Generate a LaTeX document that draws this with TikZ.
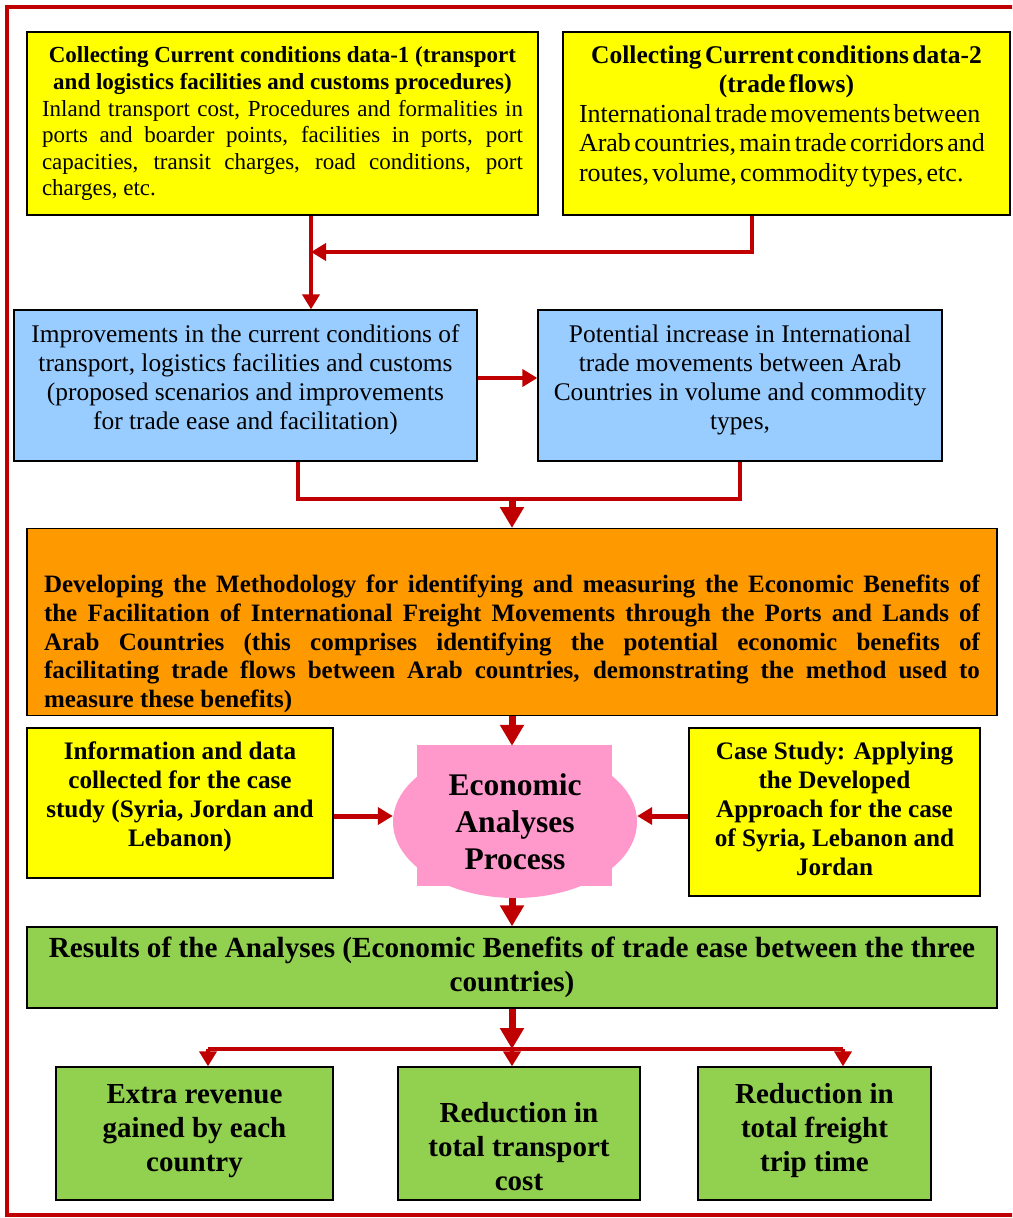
\documentclass[tikz,border=0pt]{standalone}
\usepackage{fontspec}
\setmainfont{Liberation Serif}
\usepackage{tikz}
\usetikzlibrary{shapes.geometric}
\usetikzlibrary{arrows.meta,calc}

\definecolor{flowred}{HTML}{C00000}
\definecolor{yellowbox}{HTML}{FFFF00}
\definecolor{bluebox}{HTML}{99CCFF}
\definecolor{orangebox}{HTML}{FF9900}
\definecolor{pinkbox}{HTML}{FF99CC}
\definecolor{greenbox}{HTML}{92D050}

\setlength{\parindent}{0pt}
\newcommand{\lowfill}[1]{\rule[-#1]{0pt}{0pt}}
\newcommand{\topfill}[1]{\rule{0pt}{#1}}

\begin{document}
\begin{tikzpicture}[x=1pt,y=-1pt,
      box/.style={draw=black,line width=1.3pt,inner sep=0pt},
      line/.style={draw=flowred,line width=4pt},
      flow/.style={line,-{Triangle[length=15pt,width=17pt]}},
      bigflow/.style={draw=flowred,line width=7pt,-{Triangle[length=21pt,width=23pt]}}]
      
      \useasboundingbox (0,0) rectangle (1012,1218);
      \clip (0,0) rectangle (1012,1218);
      
      %外框
      \draw[flowred,line width=3.5pt] (7,7) rectangle (1040,1215);
      
      %数据收集
      \node[box,fill=yellowbox,minimum width=511pt,minimum height=183pt,text width=481pt,align=justify] (data1) at (282.5,123.5)
      {{\centering\bfseries\fontsize{23}{27.5}\selectfont Collecting Current conditions data-1 (transport\\
      and logistics facilities and customs procedures)\par}
      {\fontsize{23}{26.5}\selectfont Inland transport cost, Procedures and formalities in\linebreak
      ports and boarder points, facilities in ports, port\linebreak
      capacities, transit charges, road conditions, port\linebreak
      charges, etc.\par}};
      
      \node[box,fill=yellowbox,minimum width=447pt,minimum height=183pt,text width=415pt] (data2) at (786.5,123.5)
      {{\centering\bfseries\fontsize{25.5}{29}\selectfont Collecting Current conditions data-2\\
      (trade flows)\par}
      {\raggedright\fontsize{26}{29.5}\selectfont International trade movements between\\
      Arab countries, main trade corridors and\\
      routes, volume, commodity types, etc.\lowfill{20pt}\par}};
      
      %改进
      \node[box,fill=bluebox,minimum width=463pt,minimum height=151pt,align=center,
      font=\fontsize{25.4}{29}\selectfont] (improve) at (245.5,385.5)
      {Improvements in the current conditions of\\
      transport, logistics facilities and customs\\
      (proposed scenarios and improvements\\
      for trade ease and facilitation)\lowfill{16pt}};
      
      \node[box,fill=bluebox,minimum width=404pt,minimum height=151pt,align=center,
      font=\fontsize{25.4}{29}\selectfont] (increase) at (740,385.5)
      {Potential increase in International\\
      trade movements between Arab\\
      Countries in volume and commodity\\
      types,\lowfill{16pt}};
      
      %方法
      \node[box,fill=orangebox,minimum width=970pt,minimum height=187pt,anchor=north] (method) at (512,528) {};
      \node[text width=936pt,inner sep=0pt,anchor=south,align=justify,font=\bfseries\fontsize{25}{28.8}\selectfont] (methodtext)
      at ([yshift=3pt]method.south)
      {Developing the Methodology for identifying and measuring the Economic Benefits of\linebreak
      the Facilitation of International Freight Movements through the Ports and Lands of\linebreak
      Arab Countries (this comprises identifying the potential economic benefits of\linebreak
      facilitating trade flows between Arab countries, demonstrating the method used to\linebreak
      measure these benefits)};
      
      %案例
      \node[box,fill=yellowbox,minimum width=306pt,minimum height=150pt,align=center,
      font=\bfseries\fontsize{25.2}{29}\selectfont] (info) at (180,803)
      {Information and data\\
      collected for the case\\
      study (Syria, Jordan and\\
      Lebanon)\lowfill{18pt}};
      
      \node[box,fill=yellowbox,minimum width=291pt,minimum height=168pt,align=center,
      font=\bfseries\fontsize{25.2}{29}\selectfont] (case) at (834.5,812)
      {Case Study: Applying\\
      the Developed\\
      Approach for the case\\
      of Syria, Lebanon and\\
      Jordan\lowfill{7pt}};
      
      \fill[pinkbox] (417,745) rectangle (612,886);
      \node[ellipse,fill=pinkbox,minimum width=244pt,minimum height=152pt,inner sep=0pt,align=center,
      font=\bfseries\fontsize{31.5}{37}\selectfont] (process) at (515,822)
      {Economic\\
      Analyses\\
      Process};
      
      %结果
      \node[box,fill=greenbox,minimum width=970pt,minimum height=81pt,align=center,
      font=\bfseries\fontsize{29.2}{34}\selectfont] (results) at (512,967.5)
      {Results of the Analyses (Economic Benefits of trade ease between the three\\
      countries)};
      
      \node[box,fill=greenbox,minimum width=277pt,minimum height=133pt,align=center,
      font=\bfseries\fontsize{29}{34}\selectfont] (out1) at (194.5,1133.5)
      {Extra revenue\\
      gained by each\\
      country\lowfill{12pt}};
      \node[box,fill=greenbox,minimum width=242pt,minimum height=133pt,align=center,
      font=\bfseries\fontsize{29}{34}\selectfont] (out2) at (519,1133.5)
      {\topfill{46pt}Reduction in\\
      total transport\\
      cost};
      \node[box,fill=greenbox,minimum width=233pt,minimum height=133pt,align=center,
      font=\bfseries\fontsize{29}{34}\selectfont] (out3) at (814.5,1133.5)
      {Reduction in\\
      total freight\\
      trip time\lowfill{12pt}};
      
      %箭头
      \coordinate (j1) at (311,252);
      \coordinate (j2) at (512,498);
      \coordinate (bus) at (512,1049);
      
      \draw[flow] (data1.south -| j1) -- (improve.north -| j1);
      \draw[flow] ([xshift=-34.5pt]data2.south) |- (j1);
      \draw[flow] ([yshift=7.5pt]improve.east) -- ([yshift=7.5pt]increase.west);
      \draw[line] ([xshift=52.5pt]improve.south) -- ++(0,37) -| (increase.south);
      \draw[bigflow] (j2) -- (method.north);
      \draw[bigflow] (method.south) -- (method.south |- process.north);
      \draw[flow,line width=5pt] ([yshift=6pt]info.east |- process.west) -- ([yshift=6pt]process.west);
      \draw[flow,line width=5pt] ([yshift=6pt]case.west |- process.east) -- ([yshift=6pt]process.east);
      \draw[bigflow] (process.south -| results.north) -- (results.north);
      \draw[bigflow] (results.south) -- (bus);
      \draw[line] (208,1049) -- (843,1049);
      
      \foreach \n/\x in {out1/208,out2/512,out3/843}  {
      	\draw[flow] (\x,1049) -- (\n.north -| \x,1049);
      }
      
      \end{tikzpicture}
\end{document}
